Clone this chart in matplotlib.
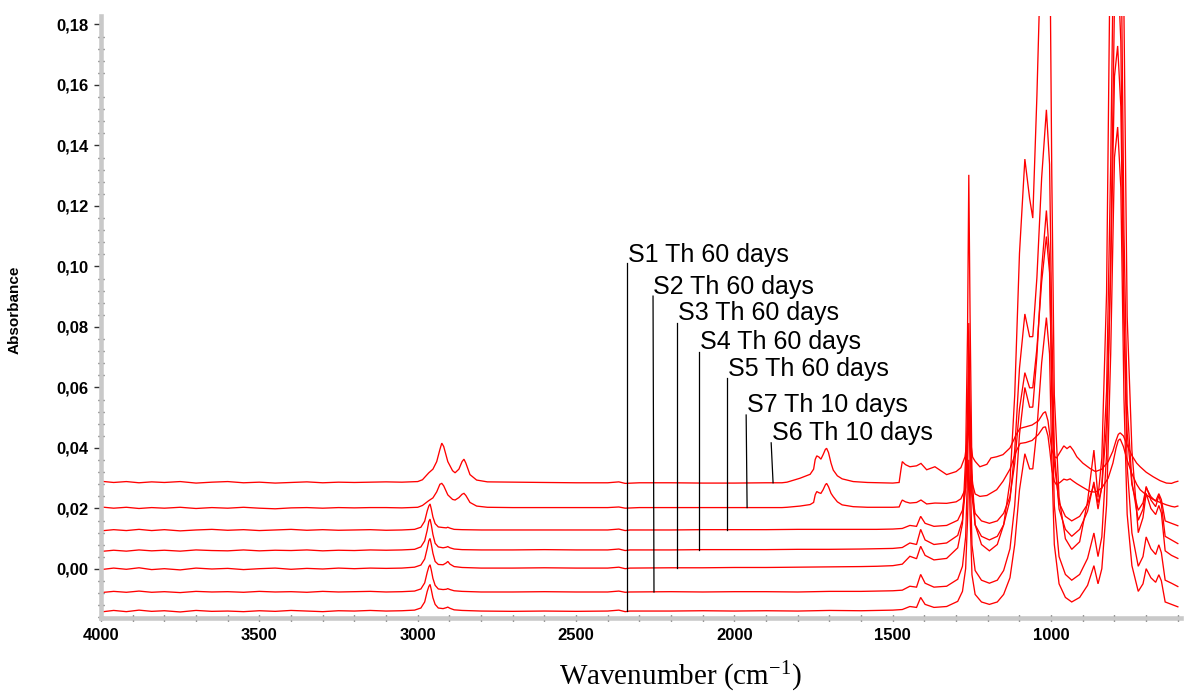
import matplotlib
matplotlib.use("Agg")
import matplotlib.pyplot as plt
from matplotlib.ticker import MultipleLocator, FuncFormatter

# ---------------- data ----------------
# wavenumber grid for the five silicone-like spectra (S1..S5)
PDMS_WN = [4000, 3960, 3920, 3880, 3840, 3800, 3750, 3700, 3650, 3600, 3550, 3500, 3450, 3400,
           3350, 3300, 3250, 3200, 3150, 3100, 3050, 3010, 2990, 2978, 2970, 2965, 2961, 2957,
           2952, 2945, 2935, 2920, 2910, 2905, 2898, 2885, 2860, 2800, 2700, 2600, 2500, 2400,
           2365, 2345, 2330, 2200, 2100, 2000, 1900, 1800, 1700, 1600, 1550,
           1500, 1470, 1446, 1425, 1412, 1398, 1370, 1330, 1295, 1280, 1270, 1264, 1260, 1256,
           1250, 1240, 1220, 1195, 1170, 1150, 1130, 1115, 1100, 1083, 1068, 1058, 1045, 1030,
           1015, 1005, 998, 990, 975, 955, 935, 910, 885, 865, 852, 840, 825, 812, 800, 790,
           780, 770, 760, 745, 725, 710, 700, 685, 670, 660, 652, 640, 620, 600]

S1_ABS = [-0.0142, -0.0137, -0.0141, -0.0136, -0.0140, -0.0138, -0.0142, -0.0137, -0.0140, -0.0139,
          -0.0141, -0.0138, -0.0140, -0.0137, -0.0139, -0.0141, -0.0138, -0.0139, -0.0137, -0.0139,
          -0.0138, -0.0136, -0.0129, -0.0109, -0.0074, -0.0058, -0.0051, -0.0069, -0.0095, -0.0117,
          -0.0129, -0.0131, -0.0128, -0.0126, -0.0130, -0.0135, -0.0137, -0.0139, -0.0140, -0.0139,
          -0.0140, -0.0139, -0.0136, -0.0141, -0.0139, -0.0139, -0.0138, -0.0139, -0.0138, -0.0139,
          -0.0137, -0.0138, -0.0137,
          -0.0136, -0.0134, -0.0124, -0.0127, -0.0094, -0.0117, -0.0127, -0.0124, -0.0107, -0.0074,
          0.0001, 0.0161, 0.0361, 0.0181, -0.0019, -0.0084, -0.0109, -0.0117, -0.0109, -0.0084,
          -0.0029, 0.0081, 0.0261, 0.0381, 0.0331, 0.0331, 0.0461, 0.0681, 0.0831, 0.0711,
          0.0361, 0.0081, -0.0049, -0.0094, -0.0109, -0.0094, -0.0054, 0.0011, -0.0049, 0.0001,
          0.0211, 0.0711, 0.1361, 0.1461, 0.1261, 0.0561, 0.0181, 0.0011, -0.0074, -0.0049,
          0.0001, -0.0029, -0.0044, -0.0019, -0.0039, -0.0109, -0.0117, -0.0125]

S2_ABS = [-0.0078, -0.0074, -0.0077, -0.0073, -0.0077, -0.0075, -0.0078, -0.0074, -0.0076, -0.0075,
          -0.0077, -0.0074, -0.0076, -0.0075, -0.0077, -0.0074, -0.0076, -0.0075, -0.0074, -0.0076,
          -0.0075, -0.0073, -0.0066, -0.0046, -0.0011, 0.0007, 0.0014, -0.0004, -0.0031, -0.0054,
          -0.0066, -0.0068, -0.0067, -0.0065, -0.0068, -0.0072, -0.0074, -0.0076, -0.0076, -0.0075,
          -0.0076, -0.0076, -0.0073, -0.0077, -0.0076, -0.0075, -0.0076, -0.0075, -0.0075, -0.0076,
          -0.0074, -0.0074, -0.0073,
          -0.0072, -0.0070, -0.0057, -0.0060, -0.0018, -0.0047, -0.0060, -0.0057, -0.0034, 0.0009,
          0.0106, 0.0314, 0.0574, 0.0340, 0.0080, -0.0005, -0.0037, -0.0047, -0.0037, -0.0005,
          0.0067, 0.0210, 0.0444, 0.0600, 0.0535, 0.0535, 0.0704, 0.0990, 0.1185, 0.1029,
          0.0574, 0.0210, 0.0041, -0.0018, -0.0037, -0.0018, 0.0035, 0.0119, 0.0041, 0.0106,
          0.0379, 0.1029, 0.1874, 0.2004, 0.1744, 0.0834, 0.0340, 0.0119, 0.0009, 0.0041,
          0.0106, 0.0067, 0.0048, 0.0080, 0.0054, -0.0037, -0.0047, -0.0058]

S3_ABS = [-0.0002, 0.0003, -0.0001, 0.0004, -0.0002, 0.0001, -0.0003, 0.0003, 0.0000, 0.0002,
          -0.0002, 0.0001, 0.0003, -0.0001, 0.0002, 0.0000, 0.0003, 0.0001, 0.0003, 0.0002,
          0.0003, 0.0006, 0.0013, 0.0033, 0.0068, 0.0093, 0.0101, 0.0081, 0.0052, 0.0025,
          0.0015, 0.0014, 0.0020, 0.0025, 0.0016, 0.0008, 0.0005, 0.0003, 0.0003, 0.0004,
          0.0003, 0.0003, 0.0006, 0.0001, 0.0003, 0.0004, 0.0004, 0.0005, 0.0005, 0.0006,
          0.0007, 0.0008, 0.0009,
          0.0011, 0.0016, 0.0042, 0.0034, 0.0075, 0.0045, 0.0030, 0.0035, 0.0070, 0.0150,
          0.0367, 0.0783, 0.1303, 0.0835, 0.0315, 0.0146, 0.0081, 0.0060, 0.0081, 0.0146,
          0.0289, 0.0575, 0.1043, 0.1355, 0.1225, 0.1160, 0.1563, 0.2135, 0.2525, 0.2213,
          0.1303, 0.0575, 0.0237, 0.0100, 0.0065, 0.0090, 0.0224, 0.0393, 0.0237, 0.0367,
          0.0913, 0.2213, 0.3903, 0.4163, 0.3643, 0.1823, 0.0835, 0.0393, 0.0120, 0.0170,
          0.0250, 0.0200, 0.0180, 0.0210, 0.0185, 0.0060, 0.0045, 0.0035]

S4_ABS = [0.0058, 0.0062, 0.0059, 0.0063, 0.0060, 0.0062, 0.0059, 0.0063, 0.0061, 0.0060,
          0.0063, 0.0060, 0.0062, 0.0061, 0.0063, 0.0060, 0.0062, 0.0061, 0.0063, 0.0062,
          0.0063, 0.0065, 0.0073, 0.0093, 0.0128, 0.0157, 0.0165, 0.0145, 0.0114, 0.0085,
          0.0073, 0.0070, 0.0072, 0.0074, 0.0070, 0.0066, 0.0064, 0.0063, 0.0063, 0.0064,
          0.0063, 0.0063, 0.0066, 0.0061, 0.0063, 0.0063, 0.0064, 0.0064, 0.0064, 0.0065,
          0.0065, 0.0066, 0.0067,
          0.0068, 0.0071, 0.0086, 0.0081, 0.0131, 0.0096, 0.0081, 0.0086, 0.0111, 0.0161,
          0.0273, 0.0513, 0.0813, 0.0543, 0.0243, 0.0146, 0.0108, 0.0096, 0.0108, 0.0146,
          0.0228, 0.0393, 0.0663, 0.0843, 0.0768, 0.0768, 0.0963, 0.1293, 0.1518, 0.1338,
          0.0813, 0.0393, 0.0198, 0.0131, 0.0108, 0.0131, 0.0191, 0.0288, 0.0198, 0.0273,
          0.0588, 0.1338, 0.2313, 0.2463, 0.2163, 0.1113, 0.0543, 0.0288, 0.0161, 0.0198,
          0.0273, 0.0228, 0.0206, 0.0243, 0.0213, 0.0108, 0.0096, 0.0084]

S5_ABS = [0.0126, 0.0130, 0.0127, 0.0131, 0.0127, 0.0130, 0.0126, 0.0129, 0.0131, 0.0128,
          0.0130, 0.0127, 0.0129, 0.0131, 0.0128, 0.0130, 0.0128, 0.0129, 0.0130, 0.0128,
          0.0129, 0.0131, 0.0138, 0.0158, 0.0192, 0.0208, 0.0215, 0.0198, 0.0172, 0.0150,
          0.0139, 0.0137, 0.0136, 0.0138, 0.0135, 0.0131, 0.0130, 0.0129, 0.0129, 0.0129,
          0.0129, 0.0129, 0.0132, 0.0127, 0.0129, 0.0129, 0.0130, 0.0130, 0.0130, 0.0131,
          0.0131, 0.0131, 0.0131,
          0.0132, 0.0134, 0.0144, 0.0141, 0.0174, 0.0151, 0.0141, 0.0144, 0.0161, 0.0194,
          0.0269, 0.0429, 0.0629, 0.0449, 0.0249, 0.0184, 0.0159, 0.0151, 0.0159, 0.0184,
          0.0239, 0.0349, 0.0529, 0.0649, 0.0599, 0.0599, 0.0729, 0.0949, 0.1099, 0.0979,
          0.0629, 0.0349, 0.0219, 0.0174, 0.0159, 0.0174, 0.0214, 0.0279, 0.0219, 0.0269,
          0.0479, 0.0979, 0.1629, 0.1729, 0.1529, 0.0829, 0.0449, 0.0279, 0.0194, 0.0219,
          0.0269, 0.0239, 0.0224, 0.0249, 0.0229, 0.0159, 0.0151, 0.0143]

# wavenumber grid for the two 10-day spectra (S6, S7)
TEN_WN = [4000, 3960, 3920, 3880, 3840, 3800, 3750, 3700, 3650, 3600, 3550, 3500, 3450, 3400,
          3350, 3300, 3250, 3200, 3150, 3100, 3050, 3000, 2985, 2965, 2952, 2940, 2930, 2924,
          2918, 2905, 2890, 2882, 2870, 2860, 2854, 2848, 2835, 2814, 2780, 2700, 2600, 2500,
          2400, 2365, 2345, 2300, 2200, 2100, 2000, 1900, 1850, 1834, 1793, 1761, 1750, 1745,
          1740, 1733, 1727, 1720, 1713, 1709, 1703, 1695, 1688, 1675, 1660, 1625, 1580, 1500,
          1480, 1474, 1470, 1460, 1446, 1425, 1411, 1393, 1367, 1330, 1300, 1285, 1272, 1266,
          1262, 1260, 1258, 1254, 1248, 1240, 1225, 1203, 1190, 1172, 1152, 1130, 1110, 1098,
          1080, 1060, 1040, 1025, 1018, 1010, 1004, 998, 990, 983, 970, 960, 950, 940, 930,
          919, 900, 877, 860, 840, 820, 805, 795, 788, 782, 772, 760, 745, 730, 719, 700, 678,
          656, 636, 620, 610, 600]

S6_ABS = [0.0290, 0.0286, 0.0289, 0.0285, 0.0288, 0.0286, 0.0289, 0.0284, 0.0287, 0.0289,
          0.0285, 0.0287, 0.0284, 0.0286, 0.0288, 0.0285, 0.0287, 0.0286, 0.0287, 0.0288,
          0.0287, 0.0289, 0.0295, 0.0318, 0.0330, 0.0355, 0.0395, 0.0416, 0.0405, 0.0355,
          0.0325, 0.0318, 0.0330, 0.0355, 0.0363, 0.0350, 0.0312, 0.0294, 0.0288, 0.0287,
          0.0286, 0.0285, 0.0285, 0.0288, 0.0283, 0.0285, 0.0285, 0.0284, 0.0284, 0.0285,
          0.0285, 0.0287, 0.0300, 0.0313, 0.0330, 0.0362, 0.0374, 0.0370, 0.0363, 0.0378,
          0.0395, 0.0399, 0.0385, 0.0350, 0.0327, 0.0308, 0.0298, 0.0289, 0.0286, 0.0284,
          0.0286, 0.0330, 0.0355, 0.0345, 0.0338, 0.0341, 0.0349, 0.0328, 0.0338, 0.0312,
          0.0322, 0.0335, 0.0371, 0.0420, 0.0500, 0.0560, 0.0500, 0.0420, 0.0370, 0.0356,
          0.0338, 0.0346, 0.0367, 0.0371, 0.0378, 0.0400, 0.0445, 0.0465, 0.0470, 0.0476,
          0.0490, 0.0515, 0.0520, 0.0490, 0.0440, 0.0395, 0.0372, 0.0367, 0.0390, 0.0407,
          0.0398, 0.0406, 0.0392, 0.0371, 0.0350, 0.0332, 0.0322, 0.0330, 0.0355, 0.0390,
          0.0425, 0.0445, 0.0450, 0.0440, 0.0410, 0.0375, 0.0350, 0.0338, 0.0320, 0.0305,
          0.0292, 0.0284, 0.0283, 0.0287, 0.0290]

S7_ABS = [0.0205, 0.0201, 0.0204, 0.0200, 0.0203, 0.0201, 0.0204, 0.0200, 0.0203, 0.0201,
          0.0204, 0.0201, 0.0199, 0.0202, 0.0203, 0.0201, 0.0203, 0.0202, 0.0203, 0.0203,
          0.0202, 0.0204, 0.0210, 0.0226, 0.0235, 0.0255, 0.0280, 0.0283, 0.0275, 0.0245,
          0.0230, 0.0228, 0.0236, 0.0247, 0.0250, 0.0243, 0.0220, 0.0208, 0.0204, 0.0203,
          0.0203, 0.0203, 0.0203, 0.0205, 0.0201, 0.0203, 0.0203, 0.0203, 0.0203, 0.0203,
          0.0203, 0.0204, 0.0208, 0.0213, 0.0220, 0.0245, 0.0256, 0.0252, 0.0250, 0.0262,
          0.0278, 0.0283, 0.0272, 0.0250, 0.0239, 0.0222, 0.0212, 0.0206, 0.0204, 0.0204,
          0.0205, 0.0220, 0.0228, 0.0222, 0.0218, 0.0220, 0.0228, 0.0215, 0.0218, 0.0217,
          0.0222, 0.0232, 0.0262, 0.0360, 0.0550, 0.0660, 0.0550, 0.0360, 0.0280, 0.0248,
          0.0240, 0.0243, 0.0251, 0.0262, 0.0290, 0.0330, 0.0390, 0.0415, 0.0418, 0.0425,
          0.0445, 0.0468, 0.0470, 0.0440, 0.0390, 0.0330, 0.0290, 0.0278, 0.0288, 0.0297,
          0.0294, 0.0298, 0.0290, 0.0282, 0.0270, 0.0256, 0.0254, 0.0268, 0.0300, 0.0350,
          0.0400, 0.0425, 0.0430, 0.0405, 0.0360, 0.0315, 0.0280, 0.0262, 0.0245, 0.0230,
          0.0220, 0.0212, 0.0207, 0.0205, 0.0208]

LABELS = ["S1 Th 60 days", "S2 Th 60 days", "S3 Th 60 days", "S4 Th 60 days",
          "S5 Th 60 days", "S7 Th 10 days", "S6 Th 10 days"]

X_MAJOR = [4000, 3500, 3000, 2500, 2000, 1500, 1000]

# ---------------- figure ----------------
plt.rcParams["mathtext.default"] = "regular"
W, H = 1199, 692
fig = plt.figure(figsize=(W / 100, H / 100), dpi=100)
L, R, B, T = 101, 1181, 618, 16
ax = fig.add_axes([L / W, 1 - B / H, (R - L) / W, (B - T) / H])

red = "#ff0000"
series = [(PDMS_WN, S1_ABS), (PDMS_WN, S2_ABS), (PDMS_WN, S3_ABS), (PDMS_WN, S4_ABS),
          (PDMS_WN, S5_ABS), (TEN_WN, S7_ABS), (TEN_WN, S6_ABS)]
for wn, ab in series:
    ax.plot(wn, ab, color=red, lw=0.95, solid_joinstyle="miter")

ax.set_xlim(4000, 590)
ax.set_ylim(-0.0162, 0.1828)

# annotations: (text x, text y, line top y, line bottom x) in data units
ann = [(2336, 0.1038, 0.1012, 2339), (2257, 0.0932, 0.0902, 2254),
       (2178, 0.0846, 0.0813, 2181), (2109, 0.0750, 0.0717, 2112),
       (2020, 0.0661, 0.0631, 2023), (1960, 0.0542, 0.0509, 1960),
       (1881, 0.0450, 0.0417, 1878)]
bases = [S1_ABS[40], S2_ABS[40], S3_ABS[40], S4_ABS[40], S5_ABS[40], S7_ABS[41], S6_ABS[41]]
line_top_x = [2339, 2257, 2181, 2112, 2023, 1963, 1884]
for lab, (tx, ty, ly, bx), base, lx in zip(LABELS, ann, bases, line_top_x):
    ax.plot([lx, bx], [ly, base], color="black", lw=0.9)
    ax.text(tx, ty, lab, ha="left", va="center", fontsize=18,
            family=["Liberation Sans Narrow", "Liberation Sans", "DejaVu Sans"], color="black")

# axes styling
for s in ("top", "right"):
    ax.spines[s].set_visible(False)
for s in ("left", "bottom"):
    ax.spines[s].set_color("#c9c9c9")
    ax.spines[s].set_linewidth(3.3)

ax.xaxis.set_minor_locator(MultipleLocator(100))
ax.set_xticks(X_MAJOR)
ax.yaxis.set_major_locator(MultipleLocator(0.02))
ax.yaxis.set_minor_locator(MultipleLocator(0.004))
ax.yaxis.set_major_formatter(FuncFormatter(lambda v, p: f"{v:.2f}".replace(".", ",").replace("-0,00", "0,00")))

ax.tick_params(axis="x", which="both", direction="inout", length=5, width=1, color="#333333")
ax.tick_params(axis="x", which="major", pad=5)
ax.tick_params(axis="y", which="major", direction="out", length=5, width=1, color="#333333", pad=4)
ax.tick_params(axis="y", which="minor", direction="inout", length=4, width=1, color="#444444")
for lbl in ax.get_xticklabels() + ax.get_yticklabels():
    lbl.set_fontweight("bold")
    lbl.set_fontsize(12)
    lbl.set_family(["Liberation Sans", "DejaVu Sans"])

fig.text(15 / W, 1 - 310 / H, "Absorbance", rotation=90, ha="center", va="center",
         fontsize=11, fontweight="bold", family=["Liberation Sans", "DejaVu Sans"])
fig.text(680 / W, 1 - 677 / H, "Wavenumber (cm$^{-1}$)", ha="center", va="center",
         fontsize=21, family=["Liberation Serif", "DejaVu Serif"])

fig.savefig("out.png", dpi=100)
